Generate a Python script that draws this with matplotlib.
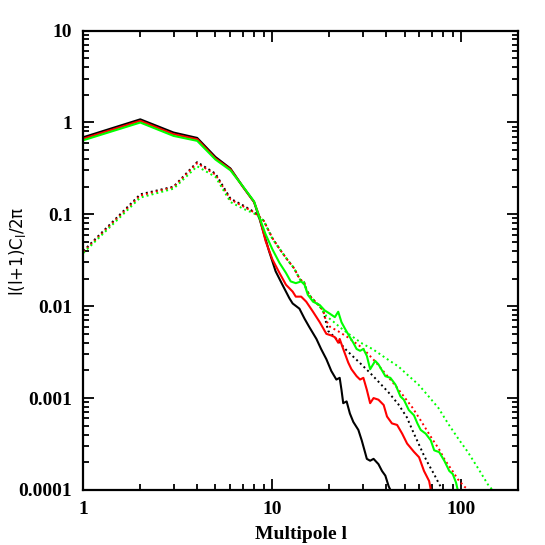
import matplotlib
matplotlib.use("Agg")
import matplotlib.pyplot as plt
from matplotlib.ticker import LogLocator, FuncFormatter, NullFormatter

# solid curves
l_black = [1, 2, 3, 4, 5, 6, 7, 8, 8.5, 9.6, 10.4, 11.3, 12.3, 12.8, 13.9, 14.8, 15.7, 17.1,
           18.1, 19.3, 20.5, 21.8, 22.7, 23.2, 23.7, 24.7, 25.7, 26.8, 28.5, 29.7, 30.9, 31.6,
           32.9, 34.3, 36.4, 38.0, 39.6, 41.2, 42.1]
cl_black = [0.69, 1.08, 0.776, 0.678, 0.42, 0.315, 0.198, 0.136, 0.093, 0.0398, 0.024, 0.0171,
            0.0122, 0.0107, 0.0094, 0.0073, 0.0059, 0.0044, 0.00342, 0.00265, 0.00197, 0.00159,
            0.00166, 0.00123, 0.00088, 0.00092, 0.00068, 0.00055, 0.00045, 0.000346, 0.000258,
            0.000218, 0.000208, 0.000218, 0.000191, 0.000161, 0.000143, 0.00011, 0.0001]

l_red = [1, 2, 3, 4, 5, 6, 7, 8, 8.5, 9.2, 10.0, 10.9, 11.8, 12.8, 13.3, 14.2, 15.1, 16.4, 17.8,
         19.3, 20.5, 21.4, 22.3, 22.7, 23.7, 25.2, 26.2, 27.9, 29.1, 30.3, 31.6, 32.9, 34.3,
         36.4, 38.8, 40.4, 42.9, 45.7, 48.6, 51.6, 56.1, 59.7, 63.4, 67.5, 68.9]
cl_red = [0.665, 1.04, 0.745, 0.655, 0.405, 0.308, 0.198, 0.136, 0.097, 0.0514, 0.0323, 0.023,
          0.0171, 0.0144, 0.0127, 0.0127, 0.0112, 0.0087, 0.0067, 0.0050, 0.0048, 0.0046, 0.0040,
          0.0044, 0.00342, 0.00243, 0.00206, 0.00173, 0.00159, 0.00166, 0.00123, 0.00088, 0.0010,
          0.00096, 0.00084, 0.00063, 0.00053, 0.00051, 0.00041, 0.00032, 0.00026, 0.000227,
          0.000161, 0.000125, 0.0001]

l_green = [1, 2, 3, 4, 5, 6, 7, 8, 8.5, 9.2, 10.0, 10.9, 11.8, 12.5, 13.3, 14.2, 14.8, 15.4,
           16.4, 17.8, 18.9, 20.1, 21.4, 22.3, 23.2, 24.2, 25.7, 26.8, 27.9, 29.1, 30.3, 31.6,
           32.9, 35.0, 36.4, 39.6, 42.1, 44.8, 47.6, 49.6, 52.7, 56.1, 58.5, 60.9, 64.7, 68.9,
           71.8, 76.3, 81.2, 86.3, 90.0, 93.7, 95.6]
cl_green = [0.64, 0.997, 0.713, 0.63, 0.394, 0.301, 0.2, 0.138, 0.095, 0.0608, 0.0416, 0.0296,
            0.023, 0.0186, 0.0178, 0.0186, 0.0171, 0.0133, 0.0112, 0.0103, 0.0090, 0.0083, 0.0076,
            0.0087, 0.0067, 0.0057, 0.0046, 0.0040, 0.00342, 0.00327, 0.00342, 0.00288, 0.00206,
            0.00254, 0.00233, 0.00173, 0.00166, 0.0014, 0.00104, 0.00096, 0.00074, 0.00065,
            0.00053, 0.00045, 0.00041, 0.000346, 0.00027, 0.000258, 0.000208, 0.000161, 0.000149,
            0.00012, 0.0001]

# dotted curves
l_black_d = [1, 2, 3, 4, 5, 6, 7, 8, 9, 10, 11, 12, 13, 14, 14.7, 15.2, 16, 17, 18, 18.6,
             19.3, 19.7, 21.8, 24.7, 29.1, 32.7, 36.5, 41.2, 46.5, 51.4, 55.8, 59.3, 63.2, 67,
             71.5, 75.6, 79.5]
cl_black_d = [0.04, 0.165, 0.20, 0.37, 0.277, 0.148, 0.125, 0.106, 0.085, 0.055, 0.041, 0.032,
              0.026, 0.0195, 0.0183, 0.0148, 0.0125, 0.011, 0.0097, 0.0088, 0.0065, 0.0054,
              0.0044, 0.0033, 0.0024, 0.0019, 0.0015, 0.00115, 0.00085, 0.00062, 0.00042,
              0.00032, 0.00024, 0.00019, 0.00015, 0.00012, 0.0001]

l_red_d = [1, 2, 3, 4, 5, 6, 7, 8, 9, 10, 11, 12, 13, 14, 14.7, 15.2, 16, 17, 18, 18.6, 19.1,
           20.1, 22.4, 25, 30, 35, 40, 45, 50, 55, 60, 65, 70, 76, 82, 89, 96, 104, 110]
cl_red_d = [0.039, 0.16, 0.197, 0.36, 0.27, 0.145, 0.122, 0.105, 0.085, 0.055, 0.041, 0.032,
            0.026, 0.0195, 0.0183, 0.0148, 0.0125, 0.011, 0.0097, 0.0088, 0.0072, 0.0060, 0.0053,
            0.0046, 0.0035, 0.0025, 0.0018, 0.00135, 0.00102, 0.00079, 0.0006, 0.00046, 0.00036,
            0.00028, 0.00021, 0.000165, 0.00013, 0.000108, 0.0001]

l_green_d = [1, 2, 3, 4, 5, 6, 7, 8, 9, 10, 11, 12, 13, 14, 14.7, 15.2, 16, 17, 18, 19.3, 21,
             23, 26, 30, 34, 40, 46.5, 52.5, 59.3, 66.9, 75.6, 85.4, 96.4, 108, 123, 138, 146]
cl_green_d = [0.038, 0.152, 0.19, 0.333, 0.255, 0.136, 0.115, 0.102, 0.085, 0.054, 0.041, 0.032,
              0.026, 0.0195, 0.0183, 0.0148, 0.0125, 0.011, 0.0096, 0.0078, 0.0068, 0.0058,
              0.0048, 0.0039, 0.0034, 0.0027, 0.0022, 0.00175, 0.0014, 0.00105, 0.00078, 0.00052,
              0.00036, 0.00026, 0.00017, 0.000115, 0.0001]

x_ticks = [1, 10, 100]
y_ticks = [1e-4, 1e-3, 1e-2, 1e-1, 1, 10]

plt.rcParams['font.family'] = ['Liberation Serif', 'DejaVu Serif']
plt.rcParams['font.weight'] = 'bold'

fig = plt.figure(figsize=(5.45, 5.45), dpi=100)
ax = fig.add_axes([0.153, 0.101, 0.798, 0.843])

dot = (0, (1, 1.6))
ax.plot(l_black_d, cl_black_d, color='black', lw=1.4, ls=dot)
ax.plot(l_red_d, cl_red_d, color='#ff0000', lw=1.4, ls=dot)
ax.plot(l_green_d, cl_green_d, color='#00ff00', lw=1.4, ls=dot)
ax.plot(l_black, cl_black, color='black', lw=1.5)
ax.plot(l_red, cl_red, color='#ff0000', lw=1.5)
ax.plot(l_green, cl_green, color='#00ff00', lw=1.5)

ax.set_xscale('log')
ax.set_yscale('log')
ax.set_xlim(1, 200)
ax.set_ylim(1e-4, 10)

ax.set_xticks(x_ticks)
ax.set_yticks(y_ticks)
ax.xaxis.set_minor_locator(LogLocator(base=10, subs=range(2, 10), numticks=20))
ax.yaxis.set_minor_locator(LogLocator(base=10, subs=range(2, 10), numticks=20))
fmt = FuncFormatter(lambda v, p: '%g' % v)
ax.xaxis.set_major_formatter(fmt)
ax.yaxis.set_major_formatter(fmt)
ax.xaxis.set_minor_formatter(NullFormatter())
ax.yaxis.set_minor_formatter(NullFormatter())

ax.tick_params(which='both', direction='in', top=True, right=True, width=1.3)
ax.tick_params(which='major', length=8, labelsize=14, pad=8)
ax.tick_params(which='minor', length=4)
for s in ax.spines.values():
    s.set_linewidth(1.6)

ax.set_xlabel('Multipole l', fontsize=14, fontweight='bold', labelpad=6)
ax.set_ylabel('l(l+1)C$_\\mathregular{l}$/2π', fontsize=12, fontweight='normal',
              family=['DejaVu Sans'])
ax.yaxis.set_label_coords(-0.128, 0.52)

fig.savefig('out.png', dpi=100)
